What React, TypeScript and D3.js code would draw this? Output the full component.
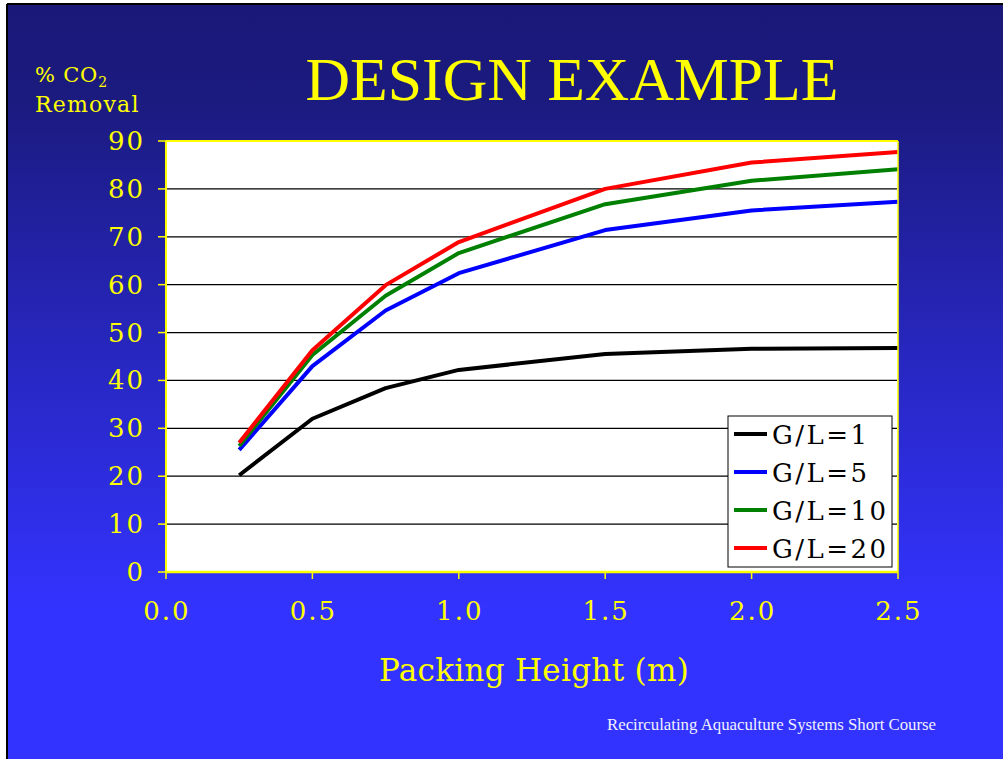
import React from "react";
import * as d3 from "d3";

const heights = [0.25, 0.5, 0.75, 1.0, 1.5, 2.0, 2.5];
const seriesNames = ["G/L=1", "G/L=5", "G/L=10", "G/L=20"];
const seriesColors = ["#000000", "#0000ff", "#008000", "#ff0000"];
const gl1 = [20.2, 32.0, 38.4, 42.2, 45.5, 46.6, 46.8];
const gl5 = [25.5, 43.0, 54.6, 62.4, 71.4, 75.5, 77.3];
const gl10 = [26.3, 45.3, 57.7, 66.6, 76.8, 81.7, 84.1];
const gl20 = [27.0, 46.3, 59.9, 68.9, 80.0, 85.5, 87.7];
const seriesValues = [gl1, gl5, gl10, gl20];
const yTicks = [0, 10, 20, 30, 40, 50, 60, 70, 80, 90];
const xTicks = [0, 0.5, 1.0, 1.5, 2.0, 2.5];

const W = 1003, H = 759;
const L = 166, R = 898, T = 141, B = 572;

export default function App() {
  const x = d3.scaleLinear().domain([0, 2.5]).range([L, R]);
  const y = d3.scaleLinear().domain([0, 90]).range([B, T]);
  const line = d3.line<number>().x((_, i) => x(heights[i])).y((v) => y(v));
  const serif = "'DejaVu Serif', serif";
  const times = "'Liberation Serif', 'Times New Roman', serif";
  const yellow = "#ffff00";
  return (
    <svg width={W} height={H} style={{ position: "absolute", left: 0, top: 0, display: "block" }}>
      <defs>
        <linearGradient id="bg" x1="0" y1="0" x2="0" y2="1">
          <stop offset="0" stopColor="#1a1878" />
          <stop offset="0.12" stopColor="#1b1a7e" />
          <stop offset="0.8" stopColor="#3333ff" />
          <stop offset="1" stopColor="#3333ff" />
        </linearGradient>
      </defs>
      <rect x={0} y={0} width={W} height={H} fill="#ffffff" />
      <rect x={7} y={4} width={W - 7} height={H - 4} fill="url(#bg)" />
      <line x1={7} y1={4} x2={W} y2={4} stroke="#000" strokeWidth={2} />
      <line x1={7} y1={4} x2={7} y2={H} stroke="#000" strokeWidth={2} />

      <text x={572} y={100} textAnchor="middle" fill={yellow} fontFamily={times} fontSize={61.7}>DESIGN EXAMPLE</text>

      <text x={35} y={82} fill={yellow} fontFamily={serif} fontSize={21} letterSpacing={0.8}>
        % CO<tspan dy={5} fontSize={14}>2</tspan>
      </text>
      <text x={35} y={112} fill={yellow} fontFamily={serif} fontSize={22} letterSpacing={1.2}>Removal</text>

      <rect x={L} y={T} width={R - L} height={B - T} fill="#ffffff" />
      {yTicks.filter((t) => t > 0 && t < 90).map((t) => (
        <line key={t} x1={L} x2={R - 1} y1={y(t)} y2={y(t)} stroke="#000" strokeWidth={1.2} />
      ))}
      {seriesValues.map((vals, si) => (
        <path key={si} d={line(vals) || ""} fill="none" stroke={seriesColors[si]} strokeWidth={4} strokeLinejoin="round" />
      ))}
      <line x1={L} x2={R} y1={T} y2={T} stroke={yellow} strokeWidth={2} />
      <line x1={R} x2={R} y1={T} y2={B} stroke={yellow} strokeWidth={1.5} />
      <line x1={L} x2={L} y1={T} y2={B} stroke={yellow} strokeWidth={2} />
      <line x1={L} x2={R} y1={B} y2={B} stroke={yellow} strokeWidth={2.5} />
      {yTicks.map((t) => (
        <g key={t}>
          <line x1={L - 8} x2={L} y1={y(t)} y2={y(t)} stroke={yellow} strokeWidth={1.5} />
          <text x={145} y={y(t) + 9} textAnchor="end" fill={yellow} fontFamily={serif} fontSize={26} letterSpacing={2}>{t}</text>
        </g>
      ))}
      {xTicks.map((t) => (
        <g key={t}>
          <line x1={x(t)} x2={x(t)} y1={B} y2={B + 7} stroke={yellow} strokeWidth={1.5} />
          <text x={x(t) + 1} y={620} textAnchor="middle" fill={yellow} fontFamily={serif} fontSize={26} letterSpacing={2}>{t.toFixed(1)}</text>
        </g>
      ))}
      <text x={534} y={681} textAnchor="middle" fill={yellow} fontFamily={serif} fontSize={31} letterSpacing={0.3}>Packing Height (m)</text>

      <rect x={728} y={416} width={164} height={151} fill="#ffffff" stroke="#000" strokeWidth={1} />
      {seriesNames.map((n, i) => (
        <g key={n}>
          <line x1={734} x2={767} y1={434 + i * 38} y2={434 + i * 38} stroke={seriesColors[i]} strokeWidth={4} />
          <text x={772} y={434 + i * 38 + 10} fill="#000" fontFamily={serif} fontSize={26} letterSpacing={2.5}>{n}</text>
        </g>
      ))}

      <text x={607} y={730} fill="#f0f0ff" fontFamily={times} fontSize={16.8}>Recirculating Aquaculture Systems Short Course</text>
    </svg>
  );
}
